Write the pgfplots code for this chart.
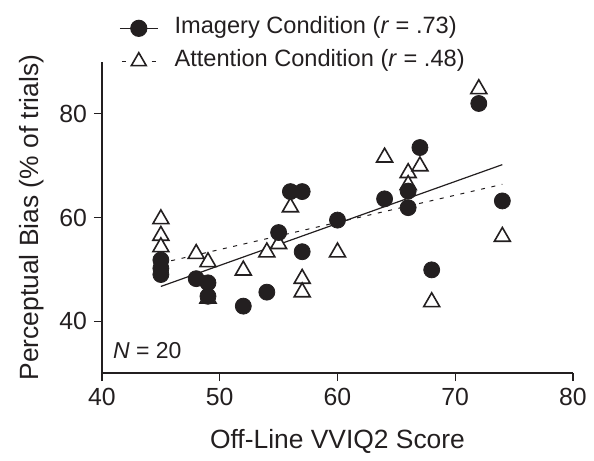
\documentclass[border=0pt]{standalone}
\usepackage{fontspec}
\setmainfont{Liberation Sans}
\usepackage{pgfplots}
\pgfplotsset{compat=1.18}
\definecolor{ink}{RGB}{35,31,32}

\begin{document}
\begin{tikzpicture}[font=\fontsize{12}{14}\selectfont]
\begin{axis}[
    scale only axis,
    width=235.5pt, height=155.5pt,
    xmin=40, xmax=80, ymin=30, ymax=90,
    axis x line=bottom, axis y line=left,
    axis line style={-, line width=0.6pt, ink},
    xtick={40,50,60,70,80}, ytick={40,60,80},
    tick align=outside, major tick length=4pt,
    tick style={line width=0.6pt, ink},
    tick label style={font=\fontsize{12.4}{14}\selectfont, text=ink},
    /pgf/number format/assume math mode=true,
    xlabel={Off-Line VVIQ2 Score},
    ylabel={Perceptual Bias (\% of trials)},
    label style={font=\fontsize{13.2}{15}\selectfont, text=ink},
    xlabel style={at={(axis description cs:0.5,-0.244)}, anchor=base},
    ylabel style={at={(axis description cs:-0.1486,0.5)}, anchor=center},
    legend style={draw=none, fill=none, at={(rel axis cs:0,1)},
        anchor=north west, xshift=8.5pt, yshift=22.3pt,
        inner sep=0pt, row sep=6pt, column sep=8.2pt,
        nodes={inner sep=0pt, text height=8pt, text depth=2.5pt, text=ink},
        font=\fontsize{11.8}{14}\selectfont},
    legend cell align=left,
    legend image code/.code={
        \draw[mark repeat=2, mark phase=2]
            plot coordinates {(0pt,0pt) (9.4pt,0pt) (18.8pt,0pt)};},
    clip=false,
]
% legend entries
\addlegendimage{ink, line width=0.6pt, mark=*, mark size=4pt,
    mark options={fill=ink, draw=ink}}
\addlegendentry{Imagery Condition (\textit{r} = .73)}
\addlegendimage{ink, line width=0.6pt, dash pattern=on 2pt off 12.8pt,
    dash phase=13.8pt,
    mark=triangle*, mark size=4.3pt,
    mark options={solid, fill=white, draw=ink, line width=0.8pt}}
\addlegendentry{Attention Condition (\textit{r} = .48)}

% attention condition
\addplot[only marks, mark=triangle*, mark size=4.6pt,
    mark options={fill=white, draw=ink, line width=0.8pt}, forget plot]
coordinates {
    (45,59.7) (45,56.5) (45,54.3) (48,53.0) (49,51.4) (49,44.4)
    (52,49.8) (54,53.3) (55,54.9) (56,62.0) (57,48.2) (57,45.6)
    (60,53.3) (64,71.6) (66,68.6) (66,66.3) (67,69.9) (68,43.7)
    (72,84.8) (74,56.3)
};

% regression lines
\addplot[ink, line width=0.5pt, dash pattern=on 2pt off 3.3pt, forget plot]
    coordinates {(45,51.2) (74,66.4)};
\addplot[ink, line width=0.6pt, forget plot]
    coordinates {(45,46.7) (74,70.2)};

% imagery condition
\addplot[only marks, mark=*, mark size=4pt,
    mark options={fill=ink, draw=ink}, forget plot]
coordinates {
    (45,51.8) (45,50.2) (45,49.0) (48,48.2) (49,47.4) (49,44.8)
    (52,42.9) (54,45.6) (55,57.1) (56,65.0) (57,65.0) (57,53.4)
    (60,59.5) (64,63.6) (66,65.1) (66,61.9) (67,73.5) (68,49.9)
    (72,82.0) (74,63.2)
};

\node[anchor=base west, text=ink, font=\fontsize{11.5}{13}\selectfont]
    at ([shift={(2pt,7.4pt)}]rel axis cs:0,0) {\textit{N} = 20};
\end{axis}
\path (-51pt,-40pt) rectangle (246pt,186.5pt);
\end{tikzpicture}
\end{document}
